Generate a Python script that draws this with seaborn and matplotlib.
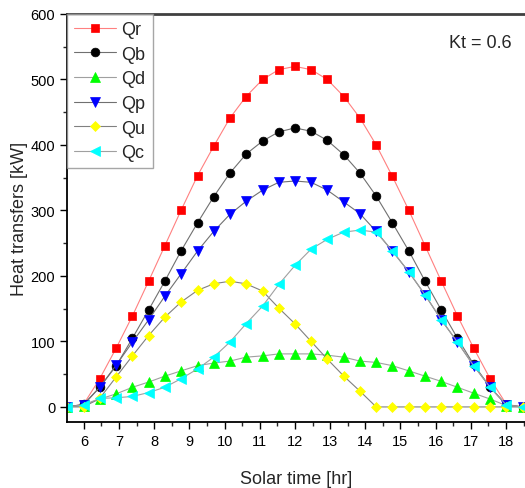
import matplotlib
matplotlib.use("Agg")
import matplotlib.pyplot as plt
import seaborn as sns
from matplotlib.ticker import MultipleLocator

# ── Data ─────────────────────────────────────────────────────────────────────
hours = [5.53, 5.99, 6.45, 6.92, 7.38, 7.84, 8.30, 8.76, 9.23, 9.69,
         10.15, 10.61, 11.08, 11.54, 12.00, 12.46, 12.92, 13.39, 13.85, 14.31,
         14.77, 15.24, 15.70, 16.16, 16.62, 17.08, 17.55, 18.01, 18.47]

q_r = [0, 4, 43, 90, 139, 192, 246, 300, 353, 398,
       441, 474, 500, 515, 520, 515, 500, 474, 441, 400,
       352, 300, 246, 192, 139, 90, 43, 4, 0]
q_b = [0, 4, 30, 63, 105, 148, 192, 238, 281, 321,
       357, 386, 406, 420, 426, 421, 407, 385, 357, 322,
       281, 238, 192, 148, 105, 65, 30, 3, 0]
q_d = [0, 2, 12, 20, 30, 38, 47, 55, 63, 67,
       70, 76, 78, 81, 81, 81, 79, 76, 70, 68,
       63, 55, 47, 39, 30, 21, 12, 2, 0]
q_p = [0, 3, 30, 64, 99, 133, 169, 203, 238, 268,
       294, 314, 331, 343, 345, 343, 331, 313, 295, 268,
       238, 206, 171, 133, 99, 63, 30, 3, 0]
q_u = [0, 0, 13, 46, 78, 109, 137, 160, 178, 188,
       192, 188, 177, 151, 127, 100, 73, 47, 24, 0,
       0, 0, 0, 0, 0, 0, 0, 0, 0]
q_c = [0, 3, 13, 14, 16, 22, 30, 43, 58, 76,
       99, 127, 154, 187, 216, 241, 256, 267, 270, 267,
       238, 206, 171, 133, 99, 63, 30, 3, 0]

series = [
    # label, values, marker, face colour, line colour, marker size
    ("Qr", q_r, "s", "#ff0000", "#ff8080", 5.6),
    ("Qb", q_b, "o", "#000000", "#707070", 6.3),
    ("Qd", q_d, "^", "#00ff00", "#a0a0a0", 7.0),
    ("Qp", q_p, "v", "#0000ff", "#707070", 7.0),
    ("Qu", q_u, "D", "#ffff00", "#808080", 5.0),
    ("Qc", q_c, "<", "#00ffff", "#a0a0a0", 7.0),
]

# ── Figure ───────────────────────────────────────────────────────────────────
sns.set_style("ticks")
plt.rcParams["font.family"] = ["Liberation Sans", "DejaVu Sans"]
plt.rcParams["xtick.direction"] = "out"
plt.rcParams["ytick.direction"] = "out"

fig = plt.figure(figsize=(5.25, 4.89), dpi=100)
ax = fig.add_axes([67 / 525, 66 / 489, 458 / 525, 408 / 489])

for label, vals, mk, face, line, ms in series:
    sns.lineplot(x=hours, y=vals, ax=ax, color=line, linewidth=0.8,
                 marker=mk, markersize=ms, markerfacecolor=face,
                 markeredgecolor=face, markeredgewidth=0.5, label=label,
                 estimator=None, sort=False)

ax.set_xlim(5.52, 18.54)
ax.set_ylim(-23, 600)
ax.xaxis.set_major_locator(MultipleLocator(1))
ax.xaxis.set_minor_locator(MultipleLocator(0.5))
ax.yaxis.set_major_locator(MultipleLocator(100))
ax.yaxis.set_minor_locator(MultipleLocator(50))
ax.tick_params(which="major", length=5, width=1, labelsize=10.5, colors="black")
ax.tick_params(which="minor", length=3, width=1)

for side in ["left", "bottom"]:
    ax.spines[side].set_linewidth(1.3)
    ax.spines[side].set_color("black")
ax.spines["top"].set_visible(True)
ax.spines["top"].set_linewidth(2)
ax.spines["top"].set_color("#404040")
ax.spines["right"].set_visible(False)

ax.set_xlabel("Solar time [hr]", fontsize=13, labelpad=16)
ax.set_ylabel("Heat transfers [kW]", fontsize=13, labelpad=2)

ax.text(0.97, 0.93, "Kt = 0.6", transform=ax.transAxes, fontsize=13,
        ha="right", va="center")

leg = ax.legend(loc="upper left", borderaxespad=0, fontsize=13,
                frameon=True, fancybox=False, handlelength=2.3,
                handletextpad=0.3, labelspacing=0.42, borderpad=0.4)
leg.get_frame().set_edgecolor("#909090")
leg.get_frame().set_linewidth(1)
leg.set_zorder(5)

fig.savefig("out.png", dpi=100)
